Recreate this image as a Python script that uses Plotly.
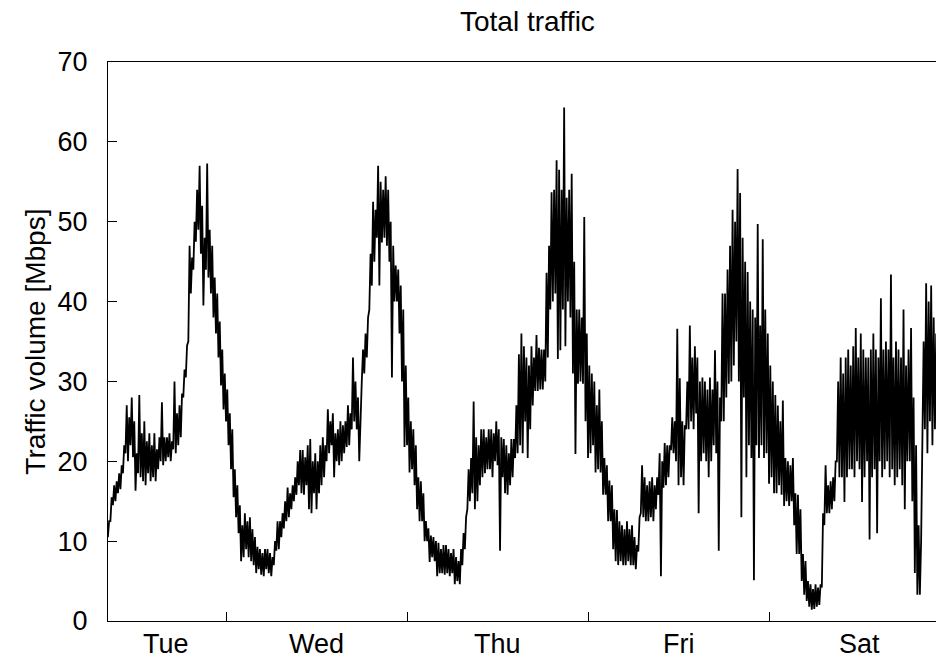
import plotly.graph_objects as go

# Traffic volume in Mbps, summarised as min / max per 20-minute slot.
# Hours are counted from Tue 00:00.
SLOT_H = 1.0 / 3.0

tue_start = 8 + 1.0 / 3.0
tue_lo = [10.5, 12.5,
          14.5, 15, 16,   16.5, 18.5, 21,   20, 22, 20.5,   16.3, 18.5, 18,
          17.5, 17, 18.5, 17.5, 18, 17.5,   19, 20, 19.5,   20, 20.5, 20,
          21.5, 21, 22,   23, 28, 30.5,     35, 41, 44,     47.5, 49, 46,
          39.5, 44, 43,   41, 38, 36,       33, 29.5, 26.5]
tue_hi = [12.5, 15.5,
          17, 17.5, 18.5, 19.5, 22, 27,     25.5, 28, 25,   21, 28.3, 23.5,
          25, 22.5, 23.5, 22, 23.5, 21.5,   23, 27.4, 23,   23, 23.5, 22.5,
          30, 26, 27,     28.5, 31.5, 34.5, 47, 45.5, 50,   54, 57, 52,
          48, 57.3, 49,   47, 43, 41,       37.5, 34, 31]

wed_start = 24.0
wed_lo = [25, 22, 19,      15.5, 13, 11,    7.5, 8, 9,       8, 7.5, 7,
          6, 6.5, 5.8,     5.6, 6.5, 6,     5.6, 7, 8.8,     9, 10.5, 11.6,
          12.5, 13, 14,    15, 15.8, 17,    16, 15.8, 17,    14, 13.5, 16,
          14, 16, 17,      18, 20, 21,      22, 18, 20,      19.5, 20, 21,
          21.8, 22, 24,    25, 24, 20,      30, 31, 33,      39, 42, 45,
          48, 42, 47.4,    48, 47, 45,      30.5, 40, 40,    36, 30, 21.8]
wed_hi = [29, 26, 24,      19, 17, 14.5,    12, 13.5, 12.5,  13, 11.5, 10.5,
          9.3, 9, 8.5,     9, 9, 8.5,       8, 10, 12.5,     12.5, 13.5, 15,
          16.7, 16, 17,    18, 20, 21.4,    21.4, 20.5, 22,  22.8, 20, 21,
          20, 22, 23,      22, 26.5, 25,    26, 23.5, 24,    25, 24.5, 25,
          27, 26, 33,      30, 28, 26,      34, 36, 38,      46, 52.5, 51.5,
          57, 55, 54,      55.7, 54, 50,    47, 44.5, 44,    42, 39, 32]

thu_start = 48.0
thu_lo = [22, 18.6, 19,    17, 14, 12.5,    12.5, 10, 10,    7.4, 8, 7.5,
          5.6, 6, 6,       5.8, 6, 5.6,     6, 4.6, 5,       4.6, 7, 9,
          14, 15, 16,      14, 15, 17,      18, 18.5, 19,    19, 18, 20,
          19.5, 8.8, 18,   16, 15.8, 17,    18, 20.4, 21,    22, 21, 25,
          20.4, 24, 27,    28.8, 28.8, 29,  29, 30, 33,      39, 40, 41,
          32.8, 33.9, 39,  34.4, 40, 38,    31, 20.9, 29.7,  30, 29.7, 25]
thu_hi = [28, 25, 24,      22, 18, 17.5,    16, 12.5, 11.6,  10.7, 10.5, 10,
          9.8, 9, 9.5,     9.5, 9, 8.5,     9, 8, 7.5,       9, 11, 13,
          19, 20.4, 27.5,  23, 22, 24,      24, 23, 24,      24, 23.5, 25,
          24, 23, 22.8,    22, 21, 22.8,    22.8, 27, 33.4,  36, 34.4, 33,
          32, 34.4, 33,    35.8, 34.2, 34,  34, 43.6, 47,    53.7, 54, 57.7,
          56.5, 54, 64.3,  53, 54, 56,      45, 39, 39,      38, 50.6, 36]

fri_start = 72.0
fri_lo = [20.4, 21, 22,    18.6, 19, 18.6,  15.8, 15.8, 12.5, 12.5, 9, 7.5,
          7, 7.5, 7,       7, 7.5, 7,       7, 6.5, 8.7,     13.5, 13, 12.5,
          12.5, 13, 12.5,  14, 15.8, 5.6,   16.7, 17, 18,    21.4, 21, 20,
          17, 18, 17,      24, 24, 25,      24, 26, 13.5,    20, 21, 20,
          18, 20, 22,      21, 8.8, 25,     25, 28, 29.7,    30, 32, 35,
          30, 13, 28,      18, 22, 20.4,    5.1, 22, 20.4,   22, 20.4, 21]
fri_hi = [32, 31, 30,      27, 29, 25,      20.4, 19.5, 17.6, 17, 14, 13.9,
          12.5, 12, 11.5,  12.5, 11.5, 12,  10.5, 9.5, 13,   19.5, 18, 17,
          17.5, 18, 17,    18, 21, 20,      22.3, 22, 22,    25.5, 25, 36.6,
          30.4, 25, 24.5,  30, 37, 33,      34.4, 33, 30,    30.5, 30, 29,
          30.5, 29, 33.9,  30, 28, 41,      41, 44, 47,      51.5, 50, 56.6,
          53.6, 48, 45,    43.7, 40, 39,    38, 49.7, 37,    47.8, 39, 36]

sat_start = 96.0
sat_lo = [17.2, 18, 16,    16, 17, 15.8,    14.4, 15, 14.4,  15, 12, 8.4,
          8.4, 5, 3.3,     2.5, 1.8, 1.4,   1.5, 1.8, 2,     4.2, 12, 13.5,
          13.5, 14, 15,    20, 18, 18,      14.9, 18, 19,    19, 18, 20,
          19, 14.9, 18,    20, 10.2, 18,    19, 11, 20,      18, 19, 20,
          18, 19, 17,      18, 19, 17,      14, 20, 20,      15, 6, 3.3,
          3.3, 21, 24,     21, 25, 22,      24]
sat_hi = [32, 30, 28.3,    27, 25, 27.6,    20.4, 20, 19.5,  20.4, 16, 15.8,
          14, 8.4, 7.5,    5, 4.6, 4,       4.6, 4.2, 4.6,   13.5, 19.5, 17,
          17.5, 18, 20,    30, 33, 31,      33, 34, 32,      34.4, 36.7, 33,
          36, 34, 33,      33, 34, 36,      34, 33, 40.4,    34, 35, 34,
          43.4, 33, 35,    34, 33, 39,      32, 34, 36.7,    28, 22, 12,
          10, 35, 42.3,    40, 42, 38,      36]

day_names = ["Tue", "Wed", "Thu", "Fri", "Sat"]
day_label_hours = [16.1, 36, 60, 84, 108]
midnight_hours = [24, 48, 72, 96]
y_ticks = [0, 10, 20, 30, 40, 50, 60, 70]
x_span = [8.35, 118.14]

days = [
    (tue_start, tue_lo, tue_hi),
    (wed_start, wed_lo, wed_hi),
    (thu_start, thu_lo, thu_hi),
    (fri_start, fri_lo, fri_hi),
    (sat_start, sat_lo, sat_hi),
]

# Min/max decimation: each slot is drawn as its low then its high sample.
hours, mbps = [], []
for start, lo, hi in days:
    assert len(lo) == len(hi)
    for i, (a, b) in enumerate(zip(lo, hi)):
        t = start + i * SLOT_H
        hours += [t, t + SLOT_H / 2]
        mbps += [a, b]

FONT = "Liberation Sans, Arial, Helvetica, sans-serif"

fig = go.Figure(
    go.Scatter(
        x=hours,
        y=mbps,
        mode="lines",
        line=dict(color="black", width=1.8),
        hoverinfo="skip",
    )
)

annotations = [
    dict(text="Total traffic", x=0.507, y=1.0, xref="paper", yref="paper",
         yshift=41, xanchor="center", yanchor="middle", showarrow=False,
         font=dict(size=28)),
    dict(text="Traffic volume [Mbps]", x=-0.088, y=0.5, xref="paper", yref="paper",
         xanchor="center", yanchor="middle", textangle=-90, showarrow=False,
         font=dict(size=28)),
]
for name, h in zip(day_names, day_label_hours):
    annotations.append(
        dict(text=name, x=h, y=0, xref="x", yref="paper", yshift=-23,
             xanchor="center", yanchor="middle", showarrow=False,
             font=dict(size=27))
    )

fig.update_layout(
    width=936,
    height=660,
    margin=dict(l=108, r=0, t=62, b=39, pad=0),
    paper_bgcolor="white",
    plot_bgcolor="white",
    font=dict(family=FONT, size=27, color="black"),
    showlegend=False,
    annotations=annotations,
    xaxis=dict(
        range=x_span,
        tickvals=midnight_hours,
        showticklabels=False,
        ticks="inside",
        ticklen=9,
        tickcolor="black",
        showline=True,
        linecolor="black",
        linewidth=1,
        mirror=True,
        showgrid=False,
        zeroline=False,
    ),
    yaxis=dict(
        range=[0, 70],
        tickvals=y_ticks,
        ticks="inside",
        ticklen=9,
        tickcolor="black",
        tickfont=dict(size=27),
        showline=True,
        linecolor="black",
        linewidth=1,
        showgrid=False,
        zeroline=False,
        ticklabelstandoff=14,
    ),
)

fig.write_html("out.html")
